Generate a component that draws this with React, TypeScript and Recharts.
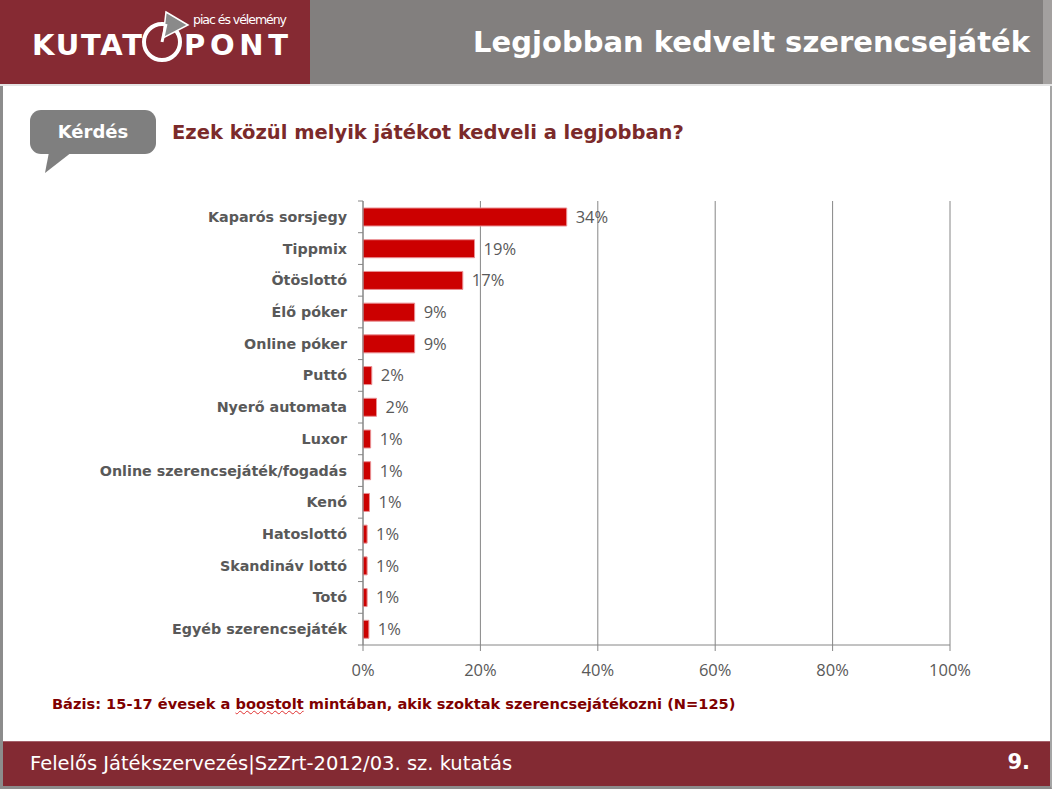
import { BarChart, Bar, XAxis, YAxis, CartesianGrid, LabelList } from "recharts";

const CATEGORIES = [
  "Kaparós sorsjegy",
  "Tippmix",
  "Ötöslottó",
  "Élő póker",
  "Online póker",
  "Puttó",
  "Nyerő automata",
  "Luxor",
  "Online szerencsejáték/fogadás",
  "Kenó",
  "Hatoslottó",
  "Skandináv lottó",
  "Totó",
  "Egyéb szerencsejáték",
];
const SHARES = [34.7, 19.0, 17.0, 8.8, 8.8, 1.5, 2.3, 1.3, 1.3, 1.1, 0.7, 0.7, 0.7, 1.0];
const SHARE_LABELS = ["34%", "19%", "17%", "9%", "9%", "2%", "2%", "1%", "1%", "1%", "1%", "1%", "1%", "1%"];
const X_TICKS = [0, 20, 40, 60, 80, 100];

const data = CATEGORIES.map((name, i) => ({ name, share: SHARES[i], label: SHARE_LABELS[i] }));

const RED = "#862a33";
const GREY = "#827f7e";
const AXIS = "#868686";
const TEXT = "#595959";

const CHART_W = 1052;
const CHART_H = 700;
const MARGIN = { top: 201, right: 102, bottom: 15, left: 0 };
const X_AXIS_H = 40;
const PLOT_H = CHART_H - MARGIN.top - MARGIN.bottom - X_AXIS_H;
const HALF_BAND = PLOT_H / CATEGORIES.length / 2;

function CategoryTick(props: any) {
  const { x, y, payload, index } = props;
  const ax = x + 16;
  return (
    <g>
      <text
        x={x}
        y={y}
        dy="0.35em"
        textAnchor="end"
        fill={TEXT}
        fontSize={14.3}
        fontWeight="bold"
        fontFamily="DejaVu Sans"
      >
        {payload.value}
      </text>
      <line x1={ax - 5} x2={ax} y1={y - HALF_BAND} y2={y - HALF_BAND} stroke={AXIS} />
      {index === CATEGORIES.length - 1 && (
        <line x1={ax - 5} x2={ax} y1={y + HALF_BAND} y2={y + HALF_BAND} stroke={AXIS} />
      )}
    </g>
  );
}

function Logo() {
  return (
    <svg width={310} height={84} style={{ position: "absolute", left: 0, top: 0 }}>
      <rect width={310} height={84} fill={RED} />
      <text x={193} y={24} fontSize={12.5} fill="#fff" fontFamily="DejaVu Sans" textLength={94}>
        piac és vélemény
      </text>
      <text x={32} y={55} fontSize={29} fill="#fff" fontWeight="bold" fontFamily="DejaVu Sans" textLength={110} lengthAdjust="spacing">
        KUTAT
      </text>
      <circle cx={162} cy={42} r={18} fill="none" stroke="#fff" strokeWidth={4} />
      <polygon points="166,12 188,25 163,38" fill="#8a8a8a" stroke="#fff" strokeWidth={1.5} />
      <line x1={162} y1={42} x2={166} y2={24} stroke="#fff" strokeWidth={3} />
      <text x={184} y={55} fontSize={29} fill="#fff" fontWeight="bold" fontFamily="DejaVu Sans" textLength={104} lengthAdjust="spacing">
        PONT
      </text>
    </svg>
  );
}

function Bubble() {
  return (
    <svg width={140} height={70} style={{ position: "absolute", left: 25, top: 106 }}>
      <rect x={5} y={4} width={126} height={44} rx={11} fill="#7f7f7f" />
      <polygon points="24,46 20,67 47,46" fill="#7f7f7f" />
      <text x={68} y={26} dy="0.35em" textAnchor="middle" fill="#fff" fontSize={18} fontWeight="bold" fontFamily="DejaVu Sans">
        Kérdés
      </text>
    </svg>
  );
}

export default function App() {
  return (
    <div
      style={{
        position: "absolute",
        left: 0,
        top: 0,
        width: 1052,
        height: 789,
        background: "#fff",
        overflow: "hidden",
        fontFamily: "DejaVu Sans",
      }}
    >
      <div style={{ position: "absolute", left: 0, top: 0, width: 1052, height: 789, boxSizing: "border-box", borderLeft: "3px solid #8c8c8c", borderBottom: "3px solid #8c8c8c", borderRight: "2px solid #a5a5a5" }} />
      <div style={{ position: "absolute", left: 310, top: 0, width: 733, height: 84, background: GREY }} />
      <div style={{ position: "absolute", left: 1043, top: 0, width: 9, height: 84, background: "#a3a09f" }} />
      <div style={{ position: "absolute", left: 0, top: 84, width: 1052, height: 2, background: "#e4e4e4" }} />
      <Logo />
      <div
        style={{
          position: "absolute",
          right: 22,
          top: 23,
          height: 38,
          lineHeight: "38px",
          color: "#fff",
          fontSize: 29,
          fontWeight: "bold",
          whiteSpace: "nowrap",
        }}
      >
        Legjobban kedvelt szerencsejáték
      </div>

      <Bubble />
      <div
        style={{
          position: "absolute",
          left: 172,
          top: 120,
          lineHeight: "26px",
          color: "#7b2a2a",
          fontSize: 19.5,
          fontWeight: "bold",
          whiteSpace: "nowrap",
        }}
      >
        Ezek közül melyik játékot kedveli a legjobban?
      </div>

      <div style={{ position: "absolute", left: 0, top: 0 }}>
        <BarChart width={CHART_W} height={CHART_H} data={data} layout="vertical" margin={MARGIN} barSize={18}>
          <CartesianGrid horizontal={false} stroke={AXIS} strokeWidth={1} />
          <XAxis
            type="number"
            domain={[0, 100]}
            ticks={X_TICKS}
            tickFormatter={(v: number) => `${v}%`}
            height={X_AXIS_H}
            stroke={AXIS}
            tickSize={6}
            tickMargin={13}
            tick={{ fill: TEXT, fontSize: 16.5, fontFamily: "Open Sans" }}
          />
          <YAxis
            type="category"
            dataKey="name"
            width={363}
            stroke={AXIS}
            tickLine={false}
            tickSize={0}
            tickMargin={16}
            interval={0}
            tick={<CategoryTick />}
          />
          <Bar dataKey="share" fill="#cc0000" stroke="#ea8f93" strokeWidth={1} isAnimationActive={false}>
            <LabelList dataKey="label" position="right" offset={9} fill={TEXT} fontSize={16.5} fontFamily="Open Sans" />
          </Bar>
        </BarChart>
      </div>

      <div
        style={{
          position: "absolute",
          left: 52,
          top: 695,
          lineHeight: "18px",
          color: "#7f0000",
          fontSize: 14.6,
          fontWeight: "bold",
          whiteSpace: "nowrap",
        }}
      >
        Bázis: 15-17 évesek a{" "}
        <span style={{ textDecoration: "underline wavy #e03030", textDecorationThickness: 1 }}>boostolt</span>{" "}
        mintában, akik szoktak szerencsejátékozni (N=125)
      </div>

      <div style={{ position: "absolute", left: 3, top: 741, width: 1047, height: 45, background: "#832a33", borderTop: "1px solid #a4606a", boxSizing: "border-box" }} />
      <div
        style={{
          position: "absolute",
          left: 30,
          top: 751,
          lineHeight: "26px",
          color: "#fff",
          fontSize: 19.5,
          whiteSpace: "nowrap",
        }}
      >
        Felelős Játékszervezés|SzZrt-2012/03. sz. kutatás
      </div>
      <div
        style={{
          position: "absolute",
          right: 22,
          top: 749,
          lineHeight: "26px",
          color: "#fff",
          fontSize: 21,
          fontWeight: "bold",
        }}
      >
        9.
      </div>
    </div>
  );
}
